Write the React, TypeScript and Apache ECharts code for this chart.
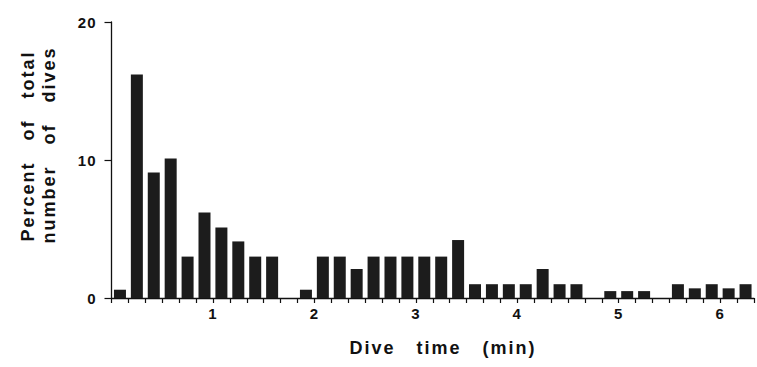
import React, { useEffect, useRef } from "react";
import * as echarts from "echarts";

// Dive-time bins (start of each 10-second bin, in seconds)
const binStartSec = [
  0, 10, 20, 30, 40, 50, 60, 70, 80, 90, 100, 110, 120, 130, 140, 150, 160, 170, 180,
  190, 200, 210, 220, 230, 240, 250, 260, 270, 280, 290, 300, 310, 320, 330, 340, 350,
  360, 370,
];
// Percent of total number of dives in each bin
const percentOfDives = [
  0.6, 16.2, 9.1, 10.1, 3.0, 6.2, 5.1, 4.1, 3.0, 3.0, 0, 0.6, 3.0, 3.0, 2.1, 3.0, 3.0, 3.0,
  3.0, 3.0, 4.2, 1.0, 1.0, 1.0, 1.0, 2.1, 1.0, 1.0, 0, 0.5, 0.5, 0.5, 0, 1.0, 0.7, 1.0, 0.7,
  1.0,
];
const binWidthSec = 10;
const yTicks = [0, 10, 20];

const FONT = "'Liberation Sans', Arial, Helvetica, sans-serif";

export default function App() {
  const ref = useRef<HTMLDivElement>(null);
  useEffect(() => {
    if (!ref.current) return;
    const el = ref.current;
    const chart = echarts.init(el, null, { renderer: "svg" });
    const data = binStartSec.map((s, i) => [s + binWidthSec / 2, percentOfDives[i]]);
    chart.setOption({
      animation: false,
      backgroundColor: "#ffffff",
      grid: { left: 111.5, top: 22, width: 650, height: 276 },
      xAxis: {
        type: "value",
        min: 0,
        max: 380,
        interval: 10,
        axisLine: { show: true, lineStyle: { color: "#111", width: 1.3 } },
        axisTick: { show: true, length: 5, lineStyle: { color: "#111", width: 1.2 } },
        splitLine: { show: false },
        axisLabel: {
          margin: 8,
          color: "#111",
          fontFamily: FONT,
          fontWeight: "bold",
          fontSize: 15,
          formatter: (v: number) => (v > 0 && v % 60 === 0 ? String(v / 60) : ""),
        },
      },
      yAxis: {
        type: "value",
        min: yTicks[0],
        max: yTicks[yTicks.length - 1],
        interval: 10,
        axisLine: { show: true, lineStyle: { color: "#111", width: 1.3 } },
        axisTick: { show: true, length: 7, lineStyle: { color: "#111", width: 1.2 } },
        splitLine: { show: false },
        axisLabel: {
          margin: 15,
          color: "#111",
          fontFamily: FONT,
          fontWeight: "bold",
          fontSize: 15,
        },
      },
      series: [
        {
          type: "bar",
          data,
          barWidth: 12,
          itemStyle: { color: "#1c1c1c" },
        },
      ],
      graphic: [
        {
          type: "text",
          x: 443,
          y: 348,
          style: {
            text: "Dive   time   (min)",
            fontFamily: FONT,
            fontWeight: "bold",
            fontSize: 18,
            fill: "#111",
            align: "center",
            verticalAlign: "middle",
          },
        },
        {
          type: "text",
          x: 28,
          y: 146,
          rotation: Math.PI / 2,
          style: {
            text: "Percent   of   total",
            fontFamily: FONT,
            fontWeight: "bold",
            fontSize: 18,
            fill: "#111",
            align: "center",
            verticalAlign: "middle",
          },
        },
        {
          type: "text",
          x: 49,
          y: 145,
          rotation: Math.PI / 2,
          style: {
            text: "number   of   dives",
            fontFamily: FONT,
            fontWeight: "bold",
            fontSize: 18,
            fill: "#111",
            align: "center",
            verticalAlign: "middle",
          },
        },
      ],
    });
    const applySpacing = () => {
      el.querySelectorAll("text").forEach((t) => {
        const fs = parseFloat(getComputedStyle(t).fontSize || "0") || 0;
        t.setAttribute("letter-spacing", fs >= 17 ? "2" : "1");
      });
    };
    applySpacing();
    chart.on("finished", applySpacing);
    return () => chart.dispose();
  }, []);
  return (
    <div
      ref={ref}
      style={{ position: "absolute", left: 0, top: 0, width: 757, height: 367 }}
    />
  );
}
